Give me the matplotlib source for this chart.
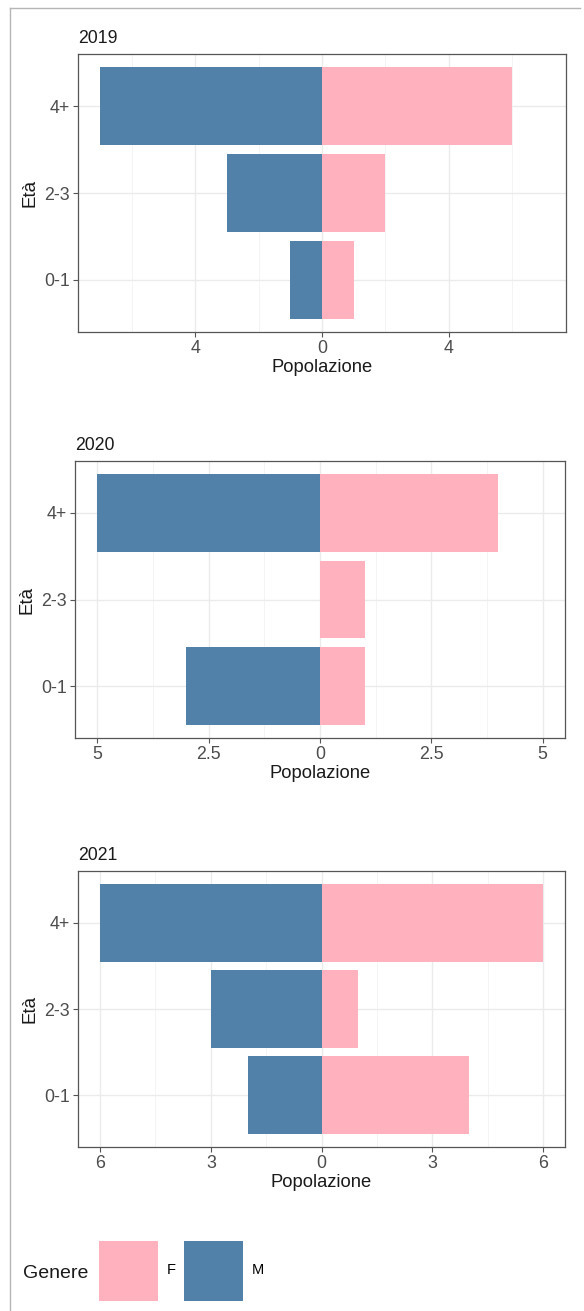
import matplotlib
matplotlib.use("Agg")
import matplotlib.pyplot as plt
from matplotlib.patches import Patch
from matplotlib.lines import Line2D
from matplotlib.ticker import FixedLocator, FuncFormatter

plt.rcParams['font.family'] = ['Liberation Sans', 'DejaVu Sans']

# ---- data ----
age_groups = ["0-1", "2-3", "4+"]
years = ["2019", "2020", "2021"]
females = {"2019": [1, 2, 6], "2020": [1, 1, 4], "2021": [4, 1, 6]}
males = {"2019": [1, 3, 7], "2020": [3, 0, 5], "2021": [2, 3, 6]}
major_ticks = {"2019": [-4, 0, 4], "2020": [-5, -2.5, 0, 2.5, 5], "2021": [-6, -3, 0, 3, 6]}
minor_ticks = {"2019": [-6, -2, 2, 6], "2020": [-3.75, -1.25, 1.25, 3.75], "2021": [-4.5, -1.5, 1.5, 4.5]}
gender_labels = ["F", "M"]

col_f = "#FFB1BE"
col_m = "#5180A8"

W, H = 584, 1311
fig = plt.figure(figsize=(W / 100, H / 100), dpi=100)

# panel boxes in pixels: left, right, top, bottom
boxes = [(78, 566, 54, 332), (75, 565, 461, 738), (78, 565, 871, 1147)]

def fmt(v, pos):
    a = abs(v)
    if abs(a - round(a)) < 1e-9:
        return str(int(round(a)))
    return f"{a:g}"

for yr, (l, r, t, b) in zip(years, boxes):
    ax = fig.add_axes([l / W, 1 - b / H, (r - l) / W, (b - t) / H])
    ypos = list(range(len(age_groups)))
    fvals = females[yr]
    mvals = [-v for v in males[yr]]
    ax.barh(ypos, mvals, height=0.9, color=col_m, zorder=3, linewidth=0)
    ax.barh(ypos, fvals, height=0.9, color=col_f, zorder=3, linewidth=0)
    mx = max(max(females[yr]), max(males[yr]))
    ax.set_xlim(-mx * 1.1, mx * 1.1)
    ax.set_ylim(-0.6, len(age_groups) - 0.4)
    ax.set_yticks(ypos)
    ax.set_yticklabels(age_groups)
    ax.xaxis.set_major_locator(FixedLocator(major_ticks[yr]))
    ax.xaxis.set_minor_locator(FixedLocator(minor_ticks[yr]))
    ax.xaxis.set_major_formatter(FuncFormatter(fmt))
    ax.grid(which='major', color='#EBEBEB', linewidth=1.0, zorder=0)
    ax.grid(which='minor', axis='x', color='#F2F2F2', linewidth=0.6, zorder=0)
    ax.set_axisbelow(True)
    ax.tick_params(axis='both', which='major', length=3.5, width=0.8, color='#555555',
                   labelcolor='#4D4D4D', labelsize=12.8, pad=2.5)
    ax.tick_params(axis='x', which='minor', length=0)
    for s in ax.spines.values():
        s.set_color('#555555')
        s.set_linewidth(0.9)
    ax.set_xlabel("Popolazione", fontsize=13.2, color='#1A1A1A', labelpad=1)
    ax.set_ylabel("Età", fontsize=13.5, color='#1A1A1A', labelpad=4)
    ax.set_title(yr, loc='left', fontsize=12.7, color='#1A1A1A', pad=8)

# legend
fig.text(23 / W, 1 - 1273 / H, "Genere", fontsize=14, color='#1A1A1A', va='center', ha='left')
handles = [Patch(facecolor=col_f, edgecolor='none'), Patch(facecolor=col_m, edgecolor='none')]
fig.legend(handles, gender_labels, loc='center left', bbox_to_anchor=(99 / W, 1 - 1271 / H),
           ncol=2, frameon=False, fontsize=10.5, handlelength=4.05, handleheight=5.85,
           handletextpad=0.6, columnspacing=0.55, borderpad=0, borderaxespad=0)

# screenshot frame lines
fig.add_artist(Line2D([10 / W, 10 / W], [1 - 8 / H, 0], transform=fig.transFigure,
                      color='#B5B5B5', linewidth=1.0))
fig.add_artist(Line2D([10 / W, 580 / W], [1 - 8 / H, 1 - 8 / H], transform=fig.transFigure,
                      color='#B5B5B5', linewidth=1.0))

fig.savefig("out.png", dpi=100)
